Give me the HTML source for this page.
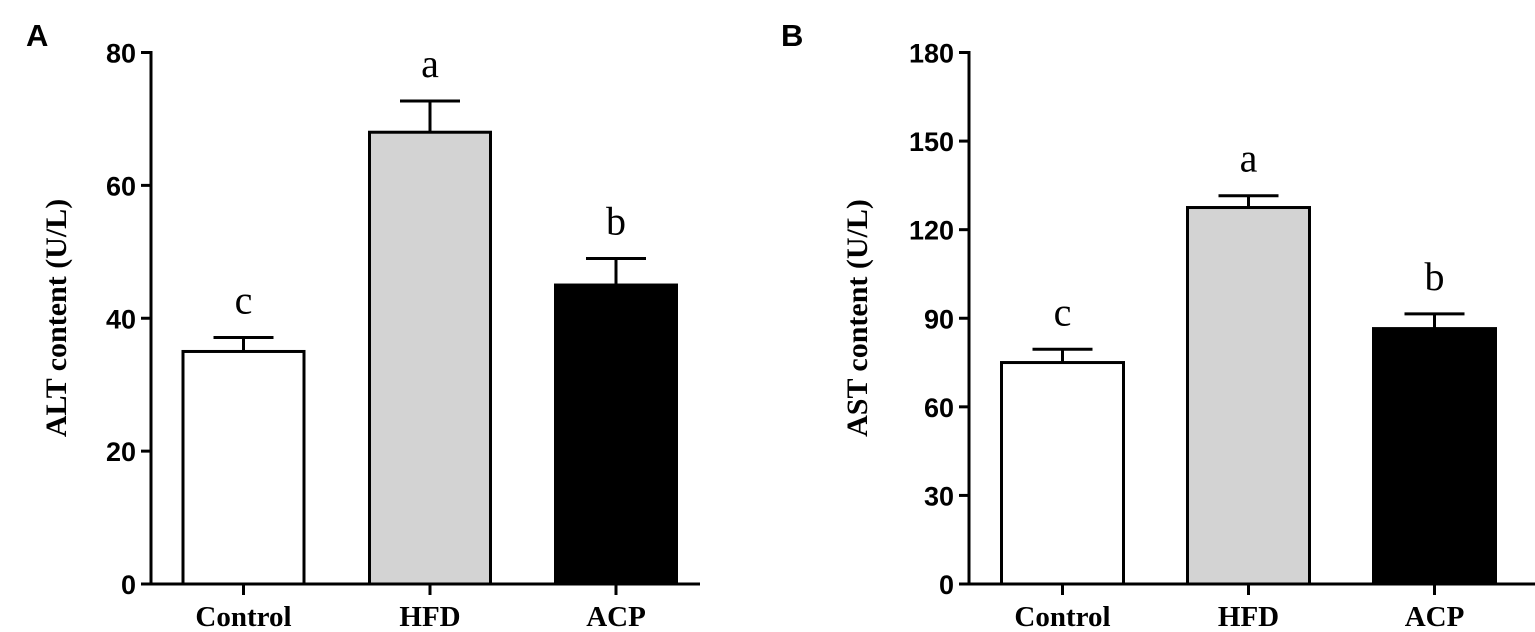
<!DOCTYPE html>
<html><head><meta charset="utf-8"><style>
html,body{margin:0;padding:0;background:#fff;}
svg{display:block;}
.tick{font-family:"Liberation Sans",sans-serif;font-weight:bold;font-size:27px;}
.cat{font-family:"Liberation Serif",serif;font-weight:bold;font-size:29px;}
.ttl{font-family:"Liberation Serif",serif;font-weight:bold;font-size:30px;}
.let{font-family:"Liberation Serif",serif;font-size:40px;}
.pl{font-family:"Liberation Sans",sans-serif;font-weight:bold;font-size:31px;}
</style></head><body>
<svg id="chart" width="1535" height="632" viewBox="0 0 1535 632">
<text x="26" y="46" class="pl">A</text>
<text x="781" y="46" class="pl">B</text>
</svg>
<script>
const categories = ["Control", "HFD", "ACP"];
const fills = ["#ffffff", "#d3d3d3", "#000000"];
const altValues = [35, 68, 45];
const altErrors = [2.1, 4.7, 4.0];
const altLetters = ["c", "a", "b"];
const altTicks = [0, 20, 40, 60, 80];
const astValues = [75, 127.5, 86.5];
const astErrors = [4.5, 4, 5];
const astLetters = ["c", "a", "b"];
const astTicks = [0, 30, 60, 90, 120, 150, 180];

const NS = "http://www.w3.org/2000/svg";
const svg = document.getElementById("chart");
function mk(tag, attrs, parent) {
  const e = document.createElementNS(NS, tag);
  for (const k in attrs) e.setAttribute(k, attrs[k]);
  (parent || svg).appendChild(e);
  return e;
}
function drawPanel(p) {
  const g = mk("g", {});
  
  
  const y0 = 584, yTop = 52.5;
  const yScale = v => y0 - (v - p.min) / (p.max - p.min) * (y0 - yTop);
  const xScale = i => p.centers[i];
  p.values.forEach((v, i) => {
    const cx = xScale(i), w = p.barW;
    const yv = yScale(v), ye = yScale(v + p.errors[i]);
    const eb = mk("g", {}, g);
    
    
    mk("line", {x1: cx, x2: cx, y1: yv, y2: ye, stroke: "#000", "stroke-width": 3}, eb);
    mk("line", {x1: cx - p.capW / 2, x2: cx + p.capW / 2, y1: ye, y2: ye, stroke: "#000", "stroke-width": 3}, eb);
    const r = mk("rect", {x: cx - w / 2, y: yv, width: w, height: y0 - yv, fill: fills[i], stroke: "#000", "stroke-width": 3}, g);
    
    
    const t = mk("text", {x: cx, y: ye - p.letterGap, "text-anchor": "middle", class: "let"}, g);
    t.textContent = p.letters[i];
    
    
    mk("line", {x1: cx, x2: cx, y1: y0, y2: y0 + 11, stroke: "#000", "stroke-width": 3}, g);
    const c = mk("text", {x: cx, y: 626, "text-anchor": "middle", class: "cat"}, g);
    c.textContent = categories[i];
    
    
  });
  const ya = mk("line", {x1: p.ax, x2: p.ax, y1: yTop - 1.5, y2: y0 + 1.5, stroke: "#000", "stroke-width": 3}, g);
  
  
  const xa = mk("line", {x1: p.ax - 10, x2: p.xEnd, y1: y0, y2: y0, stroke: "#000", "stroke-width": 3}, g);
  
  
  p.ticks.forEach(v => {
    const y = yScale(v);
    mk("line", {x1: p.ax - 10, x2: p.ax, y1: y, y2: y, stroke: "#000", "stroke-width": 3}, g);
    const t = mk("text", {x: p.ax - 15, y: y + 10, "text-anchor": "end", class: "tick"}, g);
    t.textContent = v;
    
    
  });
  const tt = mk("text", {x: 0, y: 0, "text-anchor": "middle", class: "ttl", transform: "translate(" + p.titleX + ",318) rotate(-90)"}, g);
  tt.textContent = p.title;
  
  
}
drawPanel({name: "alt-panel", values: altValues, errors: altErrors, letters: altLetters, ticks: altTicks,
  min: 0, max: 80, ax: 151, xEnd: 700, centers: [243.5, 430, 616], barW: 121, capW: 60, letterGap: 24,
  title: "ALT content (U/L)", titleX: 66});
drawPanel({name: "ast-panel", values: astValues, errors: astErrors, letters: astLetters, ticks: astTicks,
  min: 0, max: 180, ax: 969, xEnd: 1535, centers: [1062.5, 1248.5, 1434.5], barW: 122, capW: 60, letterGap: 24,
  title: "AST content (U/L)", titleX: 867});
</script>
</body></html>
